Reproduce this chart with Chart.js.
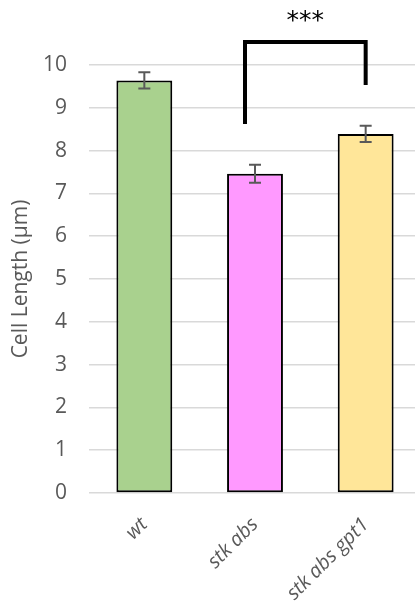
<!DOCTYPE html>
<html>
<head>
<meta charset="utf-8">
<script src="https://cdn.jsdelivr.net/npm/chart.js@4/dist/chart.umd.min.js"></script>
<style>
  html, body { margin: 0; padding: 0; background: #fff; overflow: hidden; }
  #wrap { width: 421px; height: 607px; }
</style>
</head>
<body>
<div id="wrap"><canvas id="c" width="421" height="607"></canvas></div>
<script>
// Genotypes and their mean cell length (µm) with standard error
const genotypes = ['wt', 'stk abs', 'stk abs gpt1'];
const cellLength = [9.64, 7.46, 8.39];
const stdError = [0.19, 0.21, 0.19];
const barColors = ['#A9D18E', '#FF99FF', '#FFE699'];
const yTicks = [0, 1, 2, 3, 4, 5, 6, 7, 8, 9, 10];

// Significance bracket between stk abs and stk abs gpt1
const bracketPair = [1, 2];
const bracketTop = 10.54;
const bracketLegs = [8.62, 9.53];
const bracketLabel = '***';

const errorBars = {
  id: 'errorBars',
  afterDatasetsDraw(chart) {
    const { ctx, scales: { x, y } } = chart;
    ctx.save();
    ctx.strokeStyle = '#595959';
    ctx.lineWidth = 2;
    cellLength.forEach((v, i) => {
      const cx = x.getPixelForValue(i);
      const top = y.getPixelForValue(v + stdError[i]);
      const bot = y.getPixelForValue(v - stdError[i]);
      ctx.beginPath();
      ctx.moveTo(cx, top); ctx.lineTo(cx, bot);
      ctx.moveTo(cx - 6, top); ctx.lineTo(cx + 6, top);
      ctx.moveTo(cx - 6, bot); ctx.lineTo(cx + 6, bot);
      ctx.stroke();
    });
    ctx.restore();
  }
};

const sigBracket = {
  id: 'sigBracket',
  afterDraw(chart) {
    const { ctx, scales: { x, y } } = chart;
    const x1 = x.getPixelForValue(bracketPair[0]) - 10;
    const x2 = x.getPixelForValue(bracketPair[1]);
    const yt = y.getPixelForValue(bracketTop);
    ctx.save();
    ctx.strokeStyle = '#000';
    ctx.lineWidth = 4;
    ctx.lineCap = 'butt';
    ctx.lineJoin = 'miter';
    ctx.beginPath();
    ctx.moveTo(x1, y.getPixelForValue(bracketLegs[0]));
    ctx.lineTo(x1, yt);
    ctx.lineTo(x2, yt);
    ctx.lineTo(x2, y.getPixelForValue(bracketLegs[1]));
    ctx.stroke();
    ctx.fillStyle = '#000';
    ctx.font = '25px "DejaVu Sans"';
    ctx.textAlign = 'center';
    ctx.textBaseline = 'middle';
    ctx.fillText(bracketLabel, (x1 + x2) / 2, yt - 20);
    ctx.restore();
  }
};

new Chart(document.getElementById('c'), {
  type: 'bar',
  data: {
    labels: genotypes,
    datasets: [{
      data: cellLength,
      backgroundColor: barColors,
      borderColor: '#000',
      borderWidth: 2,
      borderSkipped: false,
      categoryPercentage: 1,
      barPercentage: 0.505
    }]
  },
  options: {
    responsive: false,
    animation: false,
    layout: { padding: { top: 65, right: 0, bottom: 0, left: 0 } },
    plugins: { legend: { display: false }, tooltip: { enabled: false } },
    scales: {
      x: {
        grid: { display: false },
        border: { display: false },
        ticks: {
          color: '#595959',
          font: { family: 'Open Sans', size: 20, style: 'italic' },
          minRotation: 45,
          maxRotation: 45,
          padding: 12
        },
        afterFit: s => { s.height = 114; }
      },
      y: {
        min: 0,
        max: 10,
        afterBuildTicks: s => { s.ticks = yTicks.map(v => ({ value: v })); },
        grid: { color: '#d9d9d9', lineWidth: 1.5, drawTicks: false },
        border: { display: false },
        ticks: {
          color: '#595959',
          font: { family: 'Open Sans', size: 21 },
          padding: 22
        },
        title: {
          display: true,
          text: 'Cell Length (µm)',
          color: '#595959',
          font: { family: 'Open Sans', size: 21 },
          padding: { top: 8, bottom: 0 }
        },
        afterFit: s => { s.width = 89; }
      }
    }
  },
  plugins: [errorBars, sigBracket]
});
</script>
</body>
</html>
